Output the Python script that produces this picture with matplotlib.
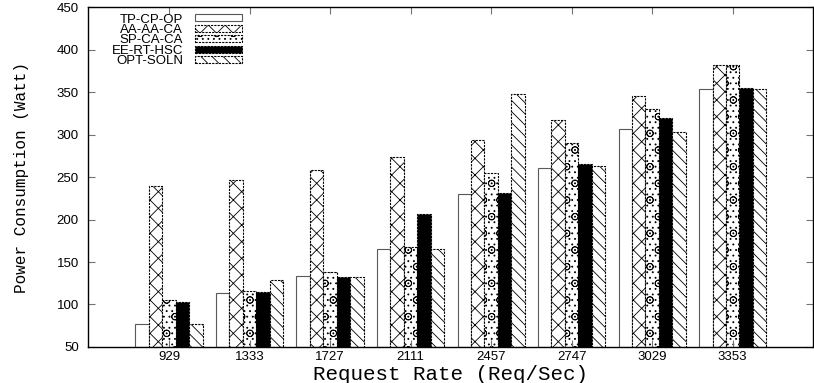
import numpy as np
import matplotlib.pyplot as plt

plt.rcParams['hatch.linewidth'] = 0.6

rates = ['929', '1333', '1727', '2111', '2457', '2747', '3029', '3353']
schemes = ['TP-CP-OP', 'AA-AA-CA', 'SP-CA-CA', 'EE-RT-HSC', 'OPT-SOLN']

tp_cp_op = [77, 113, 133, 165, 230, 261, 306, 353]
aa_aa_ca = [240, 247, 258, 274, 294, 317, 345, 382]
sp_ca_ca = [105, 116, 138, 168, 255, 290, 330, 382]
ee_rt_hsc = [103, 115, 132, 207, 231, 265, 320, 355]
opt_soln = [77, 129, 132, 165, 348, 263, 303, 353]
series = [tp_cp_op, aa_aa_ca, sp_ca_ca, ee_rt_hsc, opt_soln]

styles = [
    dict(color='white', hatch=None, ls='-', ec='0.35'),
    dict(color='white', hatch='xx', ls=(0, (2, 1)), ec='black'),
    dict(color='white', hatch='o...', ls=(0, (2, 1)), ec='black'),
    dict(color='black', hatch=None, ls=(0, (2, 1)), ec='black'),
    dict(color='white', hatch='\\\\\\', ls=(0, (2, 1)), ec='black'),
]

fig = plt.figure(figsize=(8.14, 3.83), dpi=100)
ax = fig.add_axes([0.1087, 0.094, 0.8903, 0.8877])

x = np.arange(len(rates))
w = 1 / 6
for i, (name, vals, st) in enumerate(zip(schemes, series, styles)):
    ax.bar(x + (i - 2) * w, np.array(vals) - 50, w, bottom=50, label=name,
           facecolor=st['color'], edgecolor=st['ec'], hatch=st['hatch'],
           linewidth=0.8, linestyle=st['ls'])

ax.set_xlim(-1, 8)
ax.set_ylim(50, 450)
ax.set_yticks(range(50, 451, 50))
ax.set_xticks(x)
ax.set_xticklabels(rates)
ax.tick_params(direction='in', length=5, color='0.45', top=True, right=True,
               labelsize=9.5)
ax.tick_params(axis='y', pad=7)
ax.tick_params(axis='x', pad=3)
for lab in ax.get_xticklabels() + ax.get_yticklabels():
    lab.set_fontfamily('Liberation Sans')
for sp in ax.spines.values():
    sp.set_linewidth(1)

ax.set_xlabel('Request Rate (Req/Sec)', family='Liberation Mono', fontsize=15,
              labelpad=1)
ax.set_ylabel('Power Consumption (Watt)', family='Liberation Mono', fontsize=11.5,
              labelpad=20)

ax.legend(loc='upper left', bbox_to_anchor=(0.023, 1.0), frameon=False,
          markerfirst=False, prop={'family': 'Liberation Sans', 'size': 9.5},
          handlelength=3.6, handleheight=0.45, labelspacing=-0.12,
          handletextpad=0.9, borderaxespad=0.1)

fig.savefig('out.png', dpi=100)
